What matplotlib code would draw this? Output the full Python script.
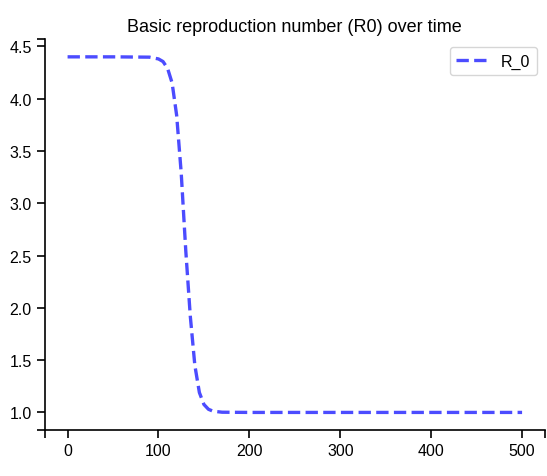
import matplotlib
matplotlib.use("Agg")
import matplotlib.pyplot as plt

plt.rcParams['font.family'] = ['Liberation Sans', 'DejaVu Sans']

# Data
t = [0, 50, 90, 100, 105, 110, 115, 120, 125, 130, 135, 140, 145, 150, 155, 160, 170, 200, 300, 400, 500]
r0 = [4.40, 4.40, 4.397, 4.38, 4.355, 4.29, 4.15, 3.84, 3.29, 2.55, 1.92, 1.45, 1.19, 1.076, 1.03, 1.012, 1.002, 1.0, 1.0, 1.0, 1.0]
xticks = [0, 100, 200, 300, 400, 500]
yticks = [1.0, 1.5, 2.0, 2.5, 3.0, 3.5, 4.0, 4.5]

fig = plt.figure(figsize=(5.47, 4.77), dpi=100)
ax = fig.add_axes([0.082, 0.096, 0.914, 0.82])
ax.plot(t, r0, '--', color='blue', alpha=0.7, lw=2.4, label='R_0')
ax.set_title('Basic reproduction number (R0) over time', fontsize=13)
ax.set_xlim(-25, 525)
ax.set_ylim(0.83, 4.57)
ax.set_xticks(xticks)
ax.set_yticks(yticks)
ax.set_yticklabels([f'{v:.1f}' for v in yticks])
ax.set_xticks([-25, 525], minor=True)
ax.set_yticks([0.83, 4.57], minor=True)
ax.tick_params(which='both', length=6, width=1.2, labelsize=11.5)
for s in ['top', 'right']:
    ax.spines[s].set_visible(False)
for s in ['left', 'bottom']:
    ax.spines[s].set_linewidth(1.2)
ax.legend(loc='upper right', fontsize=11.5, handlelength=2)
fig.savefig('out.png', dpi=100)
